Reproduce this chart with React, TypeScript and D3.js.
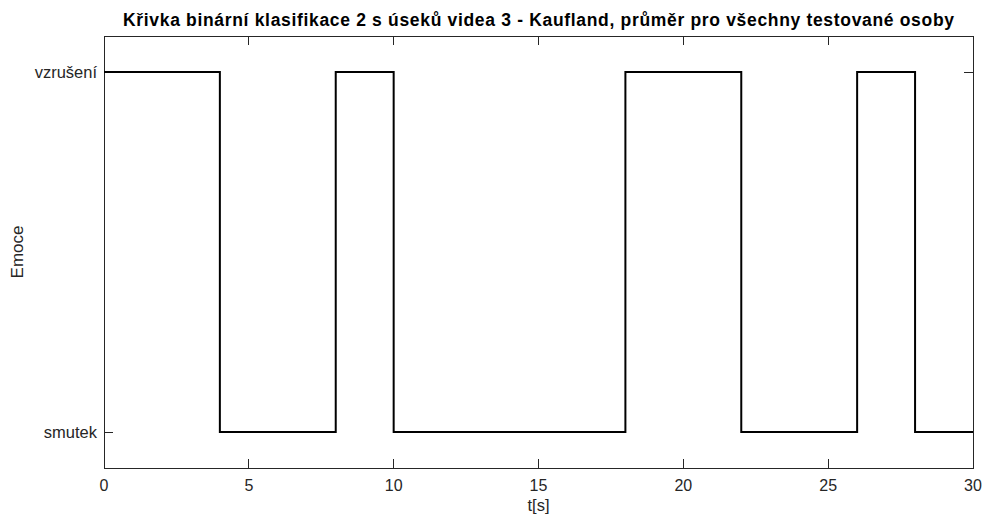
import { curveStepAfter, line, scaleLinear } from 'd3'

const times = [0, 4, 8, 10, 18, 22, 26, 28, 30]
const states = [1, 0, 1, 0, 1, 0, 1, 0, 0]
const xTicks = [0, 5, 10, 15, 20, 25, 30]
const yTickValues = [0, 1]
const yTickLabels = ['smutek', 'vzrušení']

const title = 'Křivka binární klasifikace 2 s úseků videa 3 - Kaufland, průměr pro všechny testované osoby'
const xLabel = 't[s]'
const yLabel = 'Emoce'

type Point = {
  readonly t: number
  readonly v: number
}

const width = 986
const height = 522
const left = 104
const right = 973
const top = 36
const bottom = 468
const tickLength = 9
const textColor = '#262626'
const axisColor = '#262626'
const fontFamily = '"Liberation Sans", Arial, Helvetica, sans-serif'

export default function App() {
  const points: Point[] = times.map((t, i) => ({ t, v: states[i] }))
  const xScale = scaleLinear().domain([0, 30]).range([left, right])
  const yScale = scaleLinear().domain([-0.1, 1.1]).range([bottom, top])
  const path =
    line<Point>()
      .x((p) => xScale(p.t))
      .y((p) => yScale(p.v))
      .curve(curveStepAfter)(points) ?? ''

  return (
    <svg
      width={width}
      height={height}
      viewBox={`0 0 ${width} ${height}`}
      style={{ position: 'absolute', left: 0, top: 0, background: '#fff' }}
      fontFamily={fontFamily}
    >
      <rect x={0} y={0} width={width} height={height} fill="#fff" />

      {/* axes box */}
      <rect
        x={left}
        y={top}
        width={right - left}
        height={bottom - top}
        fill="none"
        stroke={axisColor}
        strokeWidth={1}
        shapeRendering="crispEdges"
      />

      {xTicks.map((tick) => (
        <g key={`x-${tick}`}>
          <line
            x1={xScale(tick)}
            x2={xScale(tick)}
            y1={bottom}
            y2={bottom - tickLength}
            stroke={axisColor}
            shapeRendering="crispEdges"
          />
          <line
            x1={xScale(tick)}
            x2={xScale(tick)}
            y1={top}
            y2={top + tickLength}
            stroke={axisColor}
            shapeRendering="crispEdges"
          />
          <text
            x={xScale(tick)}
            y={491}
            textAnchor="middle"
            fontSize={16}
            fill={textColor}
          >
            {tick}
          </text>
        </g>
      ))}

      {yTickValues.map((tick, i) => (
        <g key={`y-${tick}`}>
          <line
            x1={left}
            x2={left + tickLength}
            y1={yScale(tick)}
            y2={yScale(tick)}
            stroke={axisColor}
            shapeRendering="crispEdges"
          />
          <line
            x1={right}
            x2={right - tickLength}
            y1={yScale(tick)}
            y2={yScale(tick)}
            stroke={axisColor}
            shapeRendering="crispEdges"
          />
          <text
            x={left - 7}
            y={yScale(tick)}
            dy="0.35em"
            textAnchor="end"
            fontSize={16.5}
            fill={textColor}
          >
            {yTickLabels[i]}
          </text>
        </g>
      ))}

      <path d={path} fill="none" stroke="#000" strokeWidth={2} />

      <text
        x={(left + right) / 2}
        y={26}
        textAnchor="middle"
        fontSize={17.5}
        fontWeight="bold"
        fill="#000"
        textLength={831}
        lengthAdjust="spacing"
      >
        {title}
      </text>

      <text
        x={(left + right) / 2}
        y={511}
        textAnchor="middle"
        fontSize={16.5}
        fill={textColor}
      >
        {xLabel}
      </text>

      <text
        transform={`translate(23, ${(top + bottom) / 2}) rotate(-90)`}
        textAnchor="middle"
        fontSize={17}
        fill={textColor}
      >
        {yLabel}
      </text>
    </svg>
  )
}
